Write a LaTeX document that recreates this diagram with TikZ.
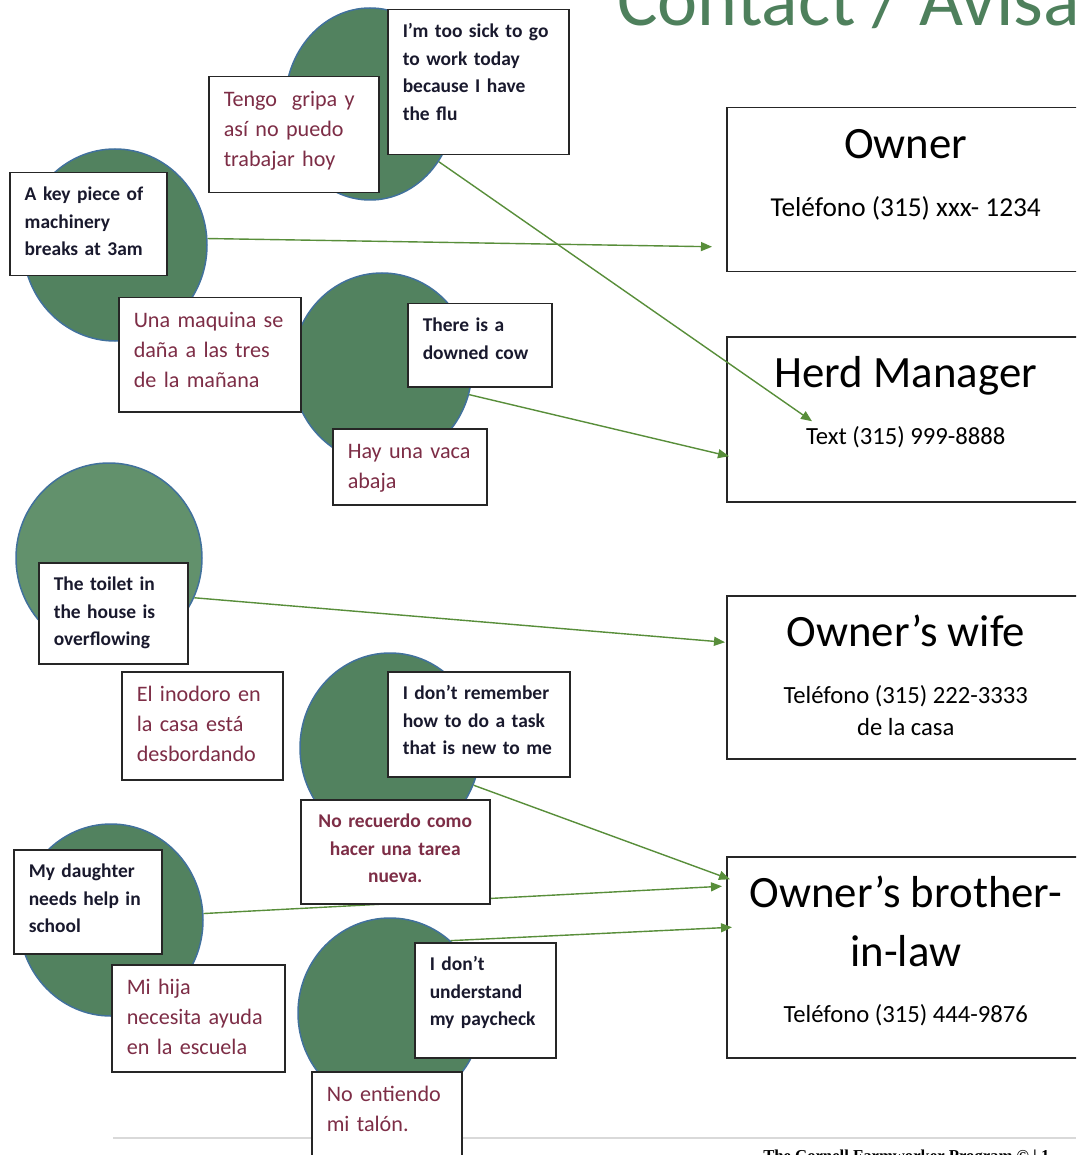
\documentclass[tikz,border=0pt]{standalone}
\usepackage{fontspec}
\setmainfont{Carlito}
\newfontfamily\footfont{Liberation Serif}
\usepackage{tikz}
\usetikzlibrary{arrows.meta,shapes.geometric,positioning}
\usetikzlibrary{calc}

\newdimen\pxu
\pxu=0.75pt

\definecolor{blobgreen}{RGB}{82,130,95}
\definecolor{blobpale}{RGB}{98,145,108}
\definecolor{blobedge}{RGB}{65,113,156}
\definecolor{entext}{RGB}{25,25,45}
\definecolor{estext}{RGB}{125,45,70}
\definecolor{linkgreen}{RGB}{88,142,58}
\definecolor{headgreen}{RGB}{78,128,92}
\definecolor{rulegray}{RGB}{217,217,217}

\newcommand\headfont{\fontsize{33.6pt}{24pt}\selectfont}
\newcommand\phonefont{\fontsize{18.5pt}{24pt}\selectfont}

\begin{document}
\begin{tikzpicture}[x = 0.75pt, y = -0.75pt,
    blob/.style = {ellipse, draw = blobedge, fill = blobgreen, line width = 1.5\pxu, inner sep = 0pt},
    card/.style = {rectangle, draw = black!85, fill = white, line width = 1.5\pxu,
      anchor = north west, inner xsep = 15\pxu, inner ysep = 0pt},
    english/.style = {card, align = left, text = entext,
      font = \fontsize{14.6pt}{20.6pt}\bfseries, text height = 28\pxu},
    spanish/.style = {card, align = left, text = estext,
      font = \fontsize{16.6pt}{22.5pt}\selectfont, text height = 30\pxu},
    contact/.style = {card, align = flush center, text width = 328\pxu, font = \headfont,
      text height = 51\pxu},
    link/.style = {draw = linkgreen, line width = 1.05pt, -{Triangle[length = 8.25pt, width = 6.75pt]}}]

  \path[use as bounding box, fill = white] (0,0) rectangle (1076,1155);
  \clip (0,0) rectangle (1076,1155);

  \node[anchor = base west, inner sep = 0pt, text = headgreen,
    font = \fontsize{57pt}{60pt}\selectfont] (heading) at (617,26) {Contact / Avisar};

  \node[blob, minimum width = 170\pxu, minimum height = 192\pxu] (flu) at (370,104) {};
  \node[blob, minimum width = 184\pxu, minimum height = 192\pxu] (machine) at (115,245) {};
  \node[blob, minimum width = 180\pxu, minimum height = 190\pxu] (cow) at (382,368) {};
  \node[blob, fill = blobpale, minimum width = 186\pxu, minimum height = 190\pxu] (toilet) at (109,558) {};
  \node[blob, minimum width = 180\pxu, minimum height = 190\pxu] (task) at (390,748) {};
  \node[blob, minimum width = 184\pxu, minimum height = 192\pxu] (school) at (111,920) {};
  \node[blob, minimum width = 184\pxu, minimum height = 190\pxu] (pay) at (390,1013) {};

  \node[contact, minimum width = 358\pxu, text depth = 113\pxu] (owner) at (726,107)
    {Owner\\[26\pxu]\fontsize{20.5pt}{24pt}\selectfont Teléfono (315) xxx- 1234};
  \node[contact, minimum width = 358\pxu, text depth = 114\pxu] (herd) at (726,336)
    {Herd Manager\\[25\pxu]\phonefont Text (315) 999-8888};
  \node[contact, minimum width = 358\pxu, text depth = 112\pxu] (wife) at (726,595)
    {Owner’s wife\\[25\pxu]\phonefont Teléfono (315) 222-3333\\de la casa};
  \node[contact, minimum width = 358\pxu, text depth = 150\pxu] (brother) at (726,856)
    {Owner’s brother-\\[27\pxu]in-law\\[24\pxu]\phonefont Teléfono (315) 444-9876};

  \draw[draw = rulegray, line width = 1.5\pxu] (113,1138) -- (1076,1138);
  \node[anchor = base west, inner sep = 0pt,
    font = \footfont\bfseries\fontsize{12.5pt}{15pt}\selectfont] (footer) at (763,1161)
    {The Cornell Farmworker Program © | 1};

  \draw[link] (machine.4) -- ($(owner.west)+(-14,57)$);
  \draw[link] (flu.-40) -- ($(herd.west)+(86,2)$);
  \draw[link] (cow.-17) -- ($(herd.west)+(3,37)$);
  \draw[link] (toilet.-25) -- ($(wife.west)+(-1,-35)$);
  \draw[link] (task.-24) -- ($(brother.west)+(4,-78)$);
  \draw[link] (school.4) -- ($(brother.west)+(-4,-71)$);
  \draw[link] (pay.50) -- ($(brother.west)+(6,-30)$);

  \node[english, text width = 151\pxu, text depth = 117\pxu] (flu-en) at (387,9)
    {I’m too sick to go\\to work today\\because I have\\the flu};
  \node[spanish, text width = 140\pxu, text depth = 86\pxu] (flu-es) at (208,76)
    {Tengo\ \ gripa y\\así no puedo\\trabajar hoy};
  \node[english, text width = 127\pxu, text depth = 75\pxu] (machine-en) at (9,172)
    {A key piece of\\machinery\\breaks at 3am};
  \node[spanish, text width = 152\pxu, text depth = 84\pxu] (machine-es) at (118,297)
    {Una maquina se\\daña a las tres\\de la mañana};
  \node[english, text width = 114\pxu, text depth = 55\pxu] (cow-en) at (407,303)
    {There is a\\downed cow};
  \node[spanish, text width = 124\pxu, text depth = 46\pxu] (cow-es) at (332,428)
    {Hay una vaca\\abaja};
  \node[english, text width = 119\pxu, text depth = 73\pxu] (toilet-en) at (38,562)
    {The toilet in\\the house is\\overflowing};
  \node[spanish, text width = 131\pxu, text depth = 78\pxu] (toilet-es) at (121,671)
    {El inodoro en\\la casa está\\desbordando};
  \node[english, text width = 152\pxu, text depth = 77\pxu] (task-en) at (387,671)
    {I don’t remember\\how to do a task\\that is new to me};
  \node[english, align = center, text = estext, text width = 159\pxu, text depth = 76\pxu] (task-es) at (300,799)
    {No recuerdo como\\hacer una tarea\\nueva.};
  \node[english, text width = 118\pxu, text depth = 76\pxu] (school-en) at (13,849)
    {My daughter\\needs help in\\school};
  \node[spanish, text width = 143\pxu, text depth = 77\pxu] (school-es) at (111,964)
    {Mi hija\\necesita ayuda\\en la escuela};
  \node[english, text width = 111\pxu, text depth = 87\pxu] (pay-en) at (414,942)
    {I don’t\\understand\\my paycheck};
  \node[spanish, text width = 120\pxu, text depth = 80\pxu] (pay-es) at (311,1071)
    {No entiendo\\mi talón.};
\end{tikzpicture}
\end{document}
